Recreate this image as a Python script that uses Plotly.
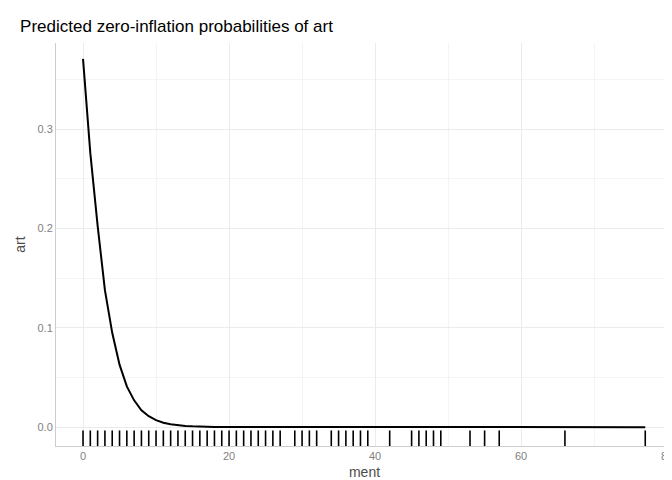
import plotly.graph_objects as go

# predicted curve
ment = [0, 1, 2, 3, 4, 5, 6, 7, 8, 9, 10, 11, 12, 13, 14, 15, 16, 18, 20, 30, 40, 50, 60, 77]
art = [0.371, 0.276, 0.203, 0.138, 0.095, 0.063, 0.041, 0.027, 0.017, 0.011, 0.007,
       0.0045, 0.003, 0.002, 0.0012, 0.0008, 0.0005, 0.0002, 0.0001, 0, 0, 0, 0, 0]

# observed ment values (rug)
rug = list(range(0, 28)) + [29, 30, 31, 32, 34, 35, 36, 37, 38, 39, 42,
                            45, 46, 47, 48, 49, 53, 55, 57, 66, 77]

fig = go.Figure()
fig.add_trace(go.Scatter(x=ment, y=art, mode='lines', line=dict(color='black', width=2),
                         showlegend=False, hoverinfo='none'))
fig.add_trace(go.Scatter(x=rug, y=[-0.0125] * len(rug), mode='markers',
                         marker=dict(symbol='line-ns', size=13,
                                     line=dict(color='black', width=1.6)),
                         showlegend=False, hoverinfo='none'))

grid = '#ebebeb'
fig.update_layout(
    width=672, height=480,
    margin=dict(l=48, r=7, t=35, b=42),
    plot_bgcolor='white', paper_bgcolor='white',
    font=dict(family='Liberation Sans, Arial', color='#4d4d4d'),
    title=dict(text='Predicted zero-inflation probabilities of art', x=0.018, xanchor='left',
               y=0.975, yanchor='top', font=dict(size=17, color='black')),
    xaxis=dict(range=[-3.7, 80.8], tickvals=[0, 20, 40, 60, 80], gridcolor=grid,
               minor=dict(tickvals=[10, 30, 50, 70], showgrid=True, gridcolor='#f4f4f4'),
               zeroline=False, showline=True, linecolor='#cccccc', automargin=False,
               tickfont=dict(size=11, color='#7f7f7f'),
               title=dict(text='ment', font=dict(size=14, color='#4d4d4d'), standoff=5)),
    yaxis=dict(range=[-0.019, 0.387], tickvals=[0, 0.1, 0.2, 0.3],
               ticktext=['0.0', '0.1', '0.2', '0.3'], gridcolor=grid,
               minor=dict(tickvals=[0.05, 0.15, 0.25, 0.35], showgrid=True, gridcolor='#f4f4f4'),
               zeroline=False, showline=True, linecolor='#cccccc', automargin=False,
               tickfont=dict(size=11, color='#7f7f7f'),
               title=dict(text='art', font=dict(size=14, color='#4d4d4d'), standoff=8)),
)

fig.write_html("out.html")
